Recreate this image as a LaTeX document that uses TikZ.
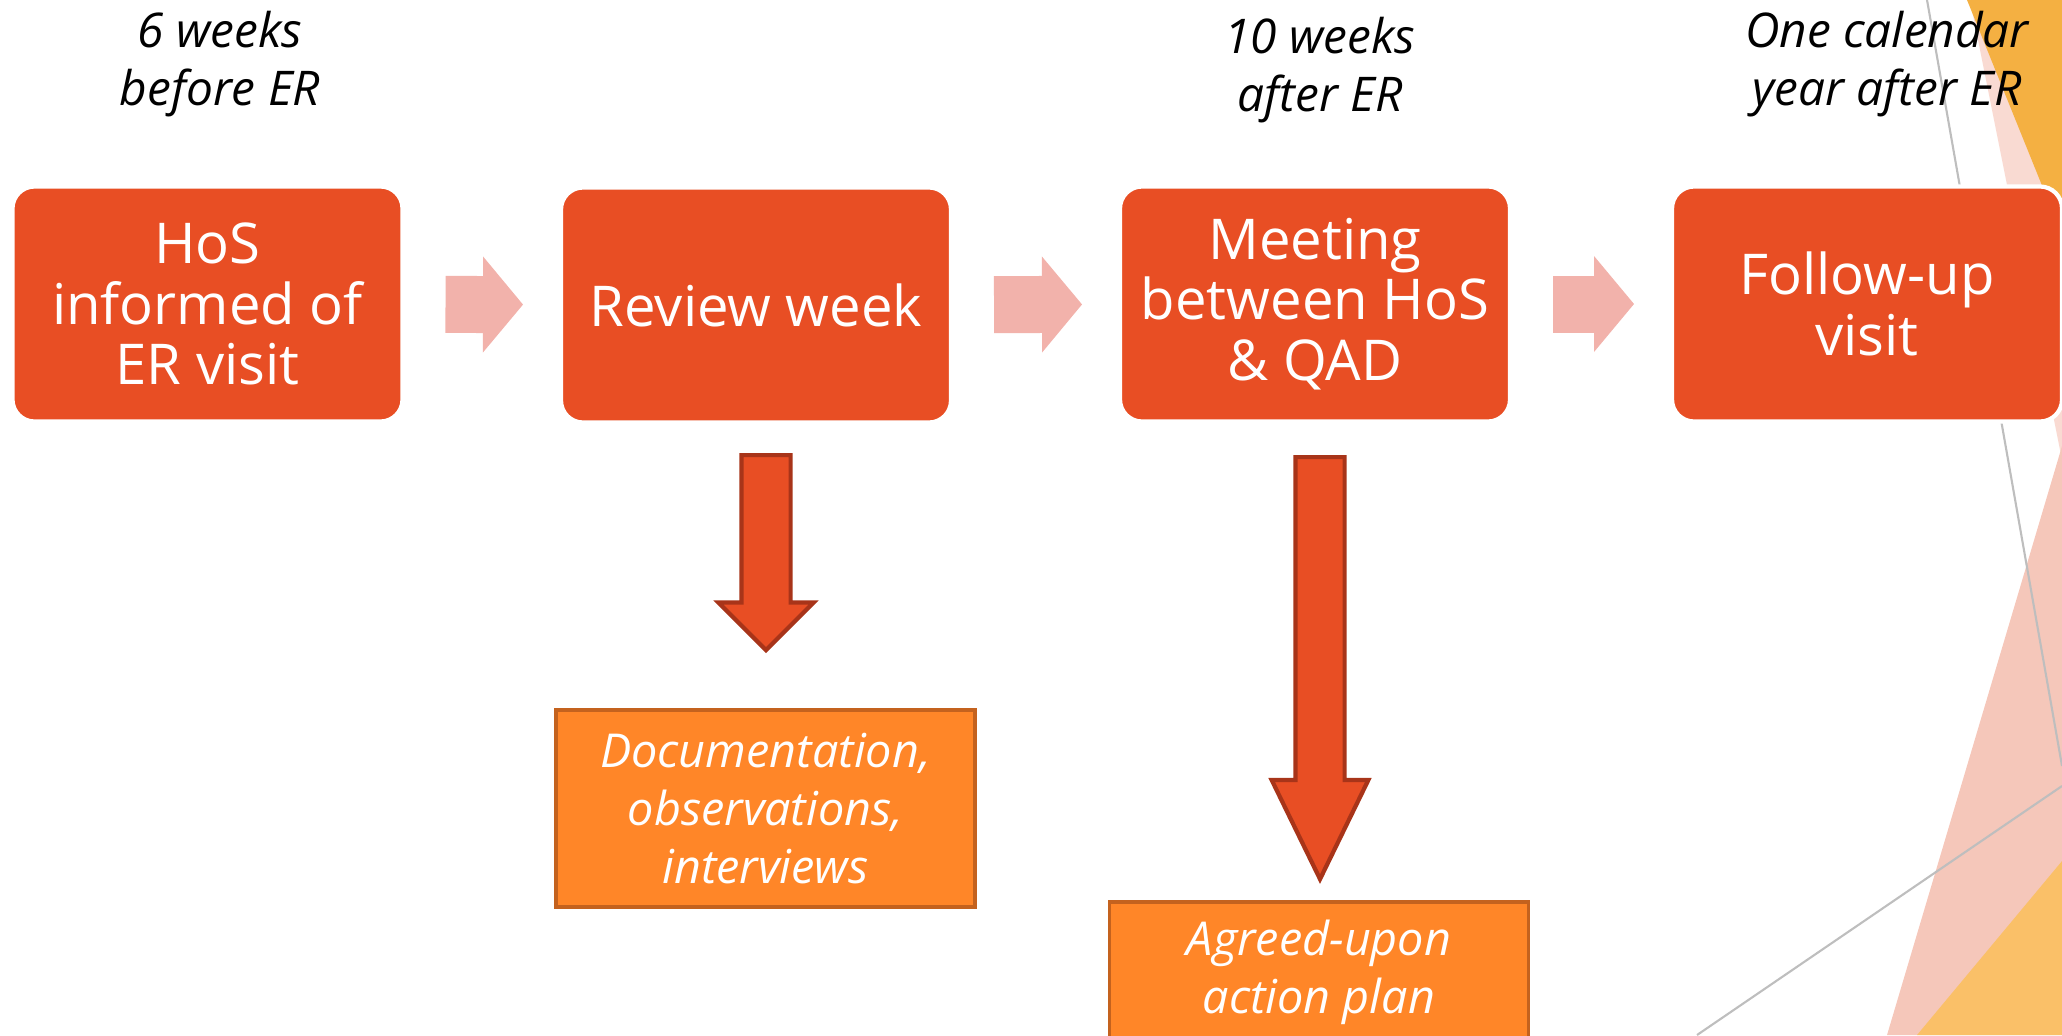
\documentclass[tikz,border=0pt]{standalone}
\usepackage{fontspec}
\setmainfont{Open Sans}
\usetikzlibrary{arrows.meta,shapes.arrows}

\definecolor{stepred}{RGB}{232,78,36}
\definecolor{arrowedge}{RGB}{168,52,25}
\definecolor{outorange}{RGB}{255,134,40}
\definecolor{outedge}{RGB}{196,98,30}
\definecolor{pinkarrow}{RGB}{242,178,171}
\definecolor{decoorange}{RGB}{244,176,66}
\definecolor{decolight}{RGB}{249,218,210}
\definecolor{decopink}{RGB}{245,199,186}
\definecolor{decosand}{RGB}{250,192,104}
\definecolor{decoline}{RGB}{190,190,190}

\begin{document}
\begin{tikzpicture}[font=\fontsize{16}{17.3}\selectfont]
  \tikzset{stepbox/.style={rectangle,rounded corners=0.22cm,fill=stepred,draw=white,line width=1.2pt,
      text=white,align=center,minimum width=3.9cm,minimum height=2.35cm,outer sep=0pt}}
  \tikzset{outbox/.style={rectangle,fill=outorange,draw=outedge,line width=1pt,text=white,
      align=center,minimum width=4.19cm,font=\fontsize{13.3}{16.4}\selectfont\itshape}}
  \tikzset{when/.style={align=center,font=\fontsize{13.6}{16.4}\selectfont\itshape}}
  \tikzset{nextarrow/.style={draw=pinkarrow,line width=0.57cm,shorten <=0.43cm,shorten >=0.38cm,
      -{Triangle[length=0.4cm,width=0.96cm,line width=0pt]}}}
  \tikzset{downarrow/.style={single arrow,shape border rotate=270,fill=stepred,draw=arrowedge,
      line width=1.2pt,inner sep=0.225cm,anchor=tail}}
  \useasboundingbox (0,0) rectangle (20.62,10.35);
  \clip (0,0) rectangle (20.62,10.35);
  % corner shapes
  \fill[decolight] (19.70,10.35) -- (20.62,10.35) -- (20.62,5.75) -- cycle;
  \fill[decoorange] (19.67,10.35) -- (20.62,10.35) -- (20.62,8.00) -- cycle;
  \fill[decopink] (20.62,5.89) -- (20.62,0) -- (18.87,0) -- cycle;
  \fill[decosand] (20.62,1.74) -- (20.62,0) -- (19.17,0) -- cycle;
  \draw[decoline,line width=0.6pt] (19.27,10.35) -- (20.62,2.69);
  \draw[decoline,line width=0.6pt] (16.97,0) -- (20.62,2.49);
  % time line
  \node[when] (t0) at (2.20, 9.71) {6 weeks\\before ER};
  \node[when] (t2) at (13.20, 9.65) {10 weeks\\after ER};
  \node[when] (t3) at (18.87, 9.71) {One calendar\\year after ER};
  \node[stepbox] (0) at (2.075, 7.31) {HoS\\informed of\\ER visit};
  \node[stepbox] (1) at (7.56, 7.30)  {Review week};
  \node[stepbox] (2) at (13.15, 7.31) {Meeting\\between HoS\\\& QAD};
  \node[stepbox] (3) at (18.67, 7.31) {Follow-up\\visit};
  \path[nextarrow] (0) -- (1);
  \path[nextarrow] (1) -- (2);
  \path[nextarrow] (2) -- (3);
  % outcomes
  \node[outbox,minimum height=1.97cm] (4) at (7.655, 2.265) {Documentation,\\observations,\\interviews};
  \node[outbox,minimum height=1.41cm] (5) at (13.19, 0.625) {Agreed-upon\\action plan};
  \node[downarrow,minimum height=1.95cm,single arrow head extend=0.23cm] (d1) at (7.66, 5.82) {};
  \node[downarrow,minimum height=4.22cm,single arrow head extend=0.237cm,
        single arrow tip angle=52] (d2) at (13.20, 5.80) {};
\end{tikzpicture}
\end{document}
